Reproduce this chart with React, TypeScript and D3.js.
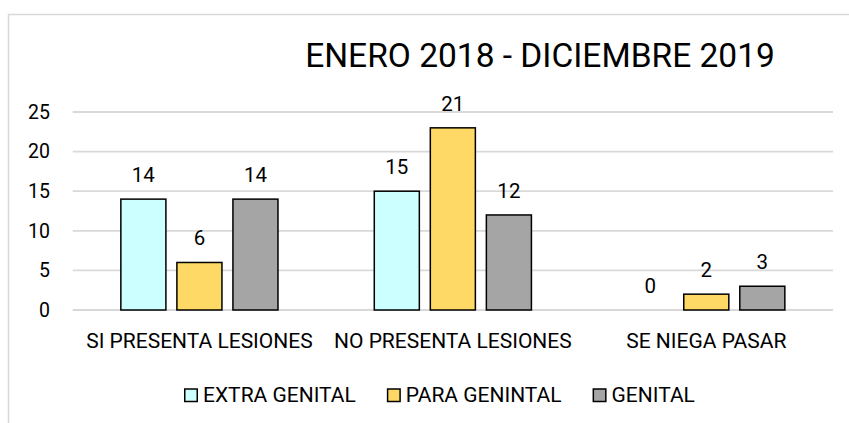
import * as d3 from 'd3';

const categories = ['SI PRESENTA LESIONES', 'NO PRESENTA LESIONES', 'SE NIEGA PASAR'];
const seriesNames = ['EXTRA GENITAL', 'PARA GENINTAL', 'GENITAL'];
const extraGenital = [14, 15, 0];
// bar for "NO PRESENTA LESIONES" is drawn up to 23 in the source, while its label reads 21
const paraGenintal = [6, 23, 2];
const genital = [14, 12, 3];
const extraLabels = ['14', '15', '0'];
const paraLabels = ['6', '21', '2'];
const genitalLabels = ['14', '12', '3'];
const yTicks = [0, 5, 10, 15, 20, 25];
const title = 'ENERO 2018 - DICIEMBRE 2019';

const colors = ['#CCFFFF', '#FFD966', '#A5A5A5'];
const FONT = 'Roboto, "Noto Sans", sans-serif';

export default function App() {
  const width = 849;
  const height = 423;
  const plot = { left: 72.7, right: 833, top: 112, bottom: 310 };

  const series = [
    { name: seriesNames[0], values: extraGenital, labels: extraLabels, color: colors[0] },
    { name: seriesNames[1], values: paraGenintal, labels: paraLabels, color: colors[1] },
    { name: seriesNames[2], values: genital, labels: genitalLabels, color: colors[2] },
  ];

  const x0 = d3.scaleBand<string>()
    .domain(categories)
    .range([plot.left, plot.right])
    .paddingInner(0.38)
    .paddingOuter(0.19);

  const x1 = d3.scaleBand<string>()
    .domain(seriesNames)
    .range([0, x0.bandwidth()])
    .paddingInner(0.196);

  const y = d3.scaleLinear().domain([0, 25]).range([plot.bottom, plot.top]);

  // legend layout: square, gap, text, then spacing to the next item
  const measure = (() => {
    const ctx = document.createElement('canvas').getContext('2d');
    return (t: string, size: number) => {
      if (!ctx) return t.length * size * 0.55;
      ctx.font = `${size}px Roboto`;
      return ctx.measureText(t).width;
    };
  })();
  const legendSize = 21;
  let lx = 184;
  const legendItems = series.map(s => {
    const item = { ...s, x: lx };
    lx += 13 + 6 + measure(s.name, legendSize) + 31;
    return item;
  });

  return (
    <svg
      width={width}
      height={height}
      style={{ position: 'absolute', left: 0, top: 0, background: '#fff' }}
      fontFamily={FONT}
    >
      <rect x={8.5} y={14.5} width={width} height={height} fill="#fff" stroke="#d9d9d9" strokeWidth={1.5} />

      <text x={540} y={66.5} textAnchor="middle" fontSize={33.5} fill="#000">{title}</text>

      {yTicks.map(t => (
        <g key={t}>
          <line x1={plot.left} x2={plot.right} y1={y(t)} y2={y(t)} stroke="#d9d9d9" strokeWidth={1.8} />
          <text x={50} y={y(t) + 6.7} textAnchor="end" fontSize={19.5} fill="#000">{t}</text>
        </g>
      ))}

      {categories.map((c, ci) => (
        <g key={c} transform={`translate(${x0(c)},0)`}>
          {series.map(s => {
            const v = s.values[ci];
            const bx = x1(s.name) ?? 0;
            return (
              <g key={s.name}>
                {v > 0 && (
                  <rect
                    x={bx}
                    y={y(v)}
                    width={x1.bandwidth()}
                    height={y(0) - y(v)}
                    fill={s.color}
                    stroke="#000"
                    strokeWidth={1.5}
                  />
                )}
                <text
                  x={bx + x1.bandwidth() / 2}
                  y={y(v) - 17}
                  textAnchor="middle"
                  fontSize={20.5}
                  fill="#000"
                >
                  {s.labels[ci]}
                </text>
              </g>
            );
          })}
          <text x={x0.bandwidth() / 2} y={348} textAnchor="middle" fontSize={21} fill="#000">{c}</text>
        </g>
      ))}

      {legendItems.map(it => (
        <g key={it.name}>
          <rect x={it.x + 0.75} y={389} width={12.5} height={12.5} fill={it.color} stroke="#000" strokeWidth={1.5} />
          <text x={it.x + 19} y={402} fontSize={legendSize} fill="#000">{it.name}</text>
        </g>
      ))}
    </svg>
  );
}
